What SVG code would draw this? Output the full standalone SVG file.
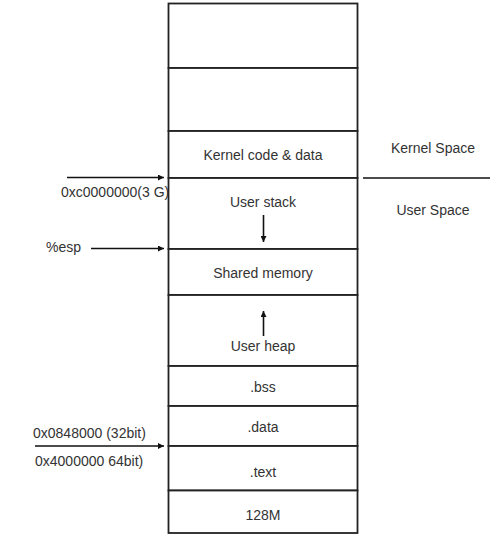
<svg xmlns="http://www.w3.org/2000/svg" width="499" height="543" viewBox="0 0 499 543">
<defs>
<style>
text{font-family:"Liberation Sans",Arial,sans-serif;font-size:14px;fill:#333;dominant-baseline:central}
.c{text-anchor:middle}
.box{fill:#fff;stroke:#222;stroke-width:1.8}
.ln{stroke:#111;stroke-width:1.6;fill:none}
</style>
<marker id="ah" viewBox="0 0 10 10" refX="10" refY="5" markerWidth="6" markerHeight="6" markerUnits="userSpaceOnUse" orient="auto">
<path d="M0,0 L10,5 L0,10 z" fill="#111"/>
</marker>
</defs>
<rect width="499" height="543" fill="#fff"/>
<g id="seg-top1"><rect class="box" x="168.5" y="3.5" width="189" height="64.5"/></g>
<g id="seg-top2"><rect class="box" x="168.5" y="68" width="189" height="63"/></g>
<g id="seg-kernel"><rect class="box" x="168.5" y="131" width="189" height="47"/><text class="c" x="263" y="155">Kernel code &amp; data</text></g>
<g id="seg-stack"><rect class="box" x="168.5" y="178" width="189" height="71"/><text class="c" x="263" y="202">User stack</text></g>
<g id="seg-shared"><rect class="box" x="168.5" y="249" width="189" height="46"/><text class="c" x="263" y="273">Shared memory</text></g>
<g id="seg-heap"><rect class="box" x="168.5" y="295" width="189" height="71"/><text class="c" x="263" y="346">User heap</text></g>
<g id="seg-bss"><rect class="box" x="168.5" y="366" width="189" height="40"/><text class="c" x="263" y="387">.bss</text></g>
<g id="seg-data"><rect class="box" x="168.5" y="406" width="189" height="40"/><text class="c" x="263" y="427">.data</text></g>
<g id="seg-text"><rect class="box" x="168.5" y="446" width="189" height="44.5"/><text class="c" x="263" y="472">.text</text></g>
<g id="seg-128m"><rect class="box" x="168.5" y="490.5" width="189" height="42.5"/><text class="c" x="263" y="515">128M</text></g>
<g id="labels">
<text x="61" y="192">0xc0000000(3 G)</text>
<text x="46" y="247">%esp</text>
<text x="33" y="433">0x0848000 (32bit)</text>
<text x="35" y="461">0x4000000 64bit)</text>
<text class="c" x="433" y="148">Kernel Space</text>
<text class="c" x="433" y="210">User Space</text>
</g>
<g id="connectors">
<line class="ln" x1="263.5" y1="215" x2="263.5" y2="242" marker-end="url(#ah)"/>
<line class="ln" x1="263.5" y1="336" x2="263.5" y2="311" marker-end="url(#ah)"/>
<line class="ln" x1="67" y1="177.5" x2="164" y2="177.5" marker-end="url(#ah)"/>
<line class="ln" x1="91" y1="248.5" x2="164" y2="248.5" marker-end="url(#ah)"/>
<line class="ln" x1="35" y1="446" x2="164" y2="446" marker-end="url(#ah)"/>
<line class="ln" x1="363" y1="178" x2="490" y2="178"/>
</g>
</svg>
